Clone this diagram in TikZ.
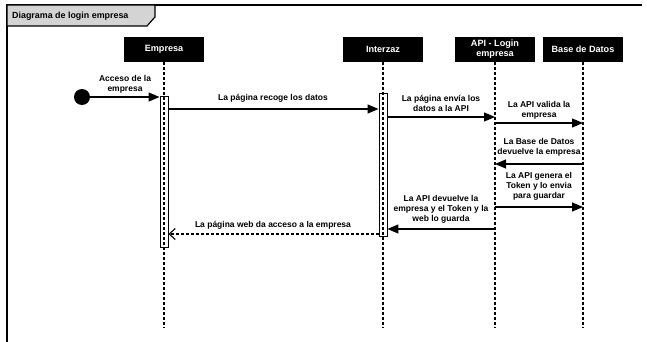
\documentclass[tikz,border=0pt]{standalone}
\usepackage{fontspec}
\setmainfont{Liberation Sans}
\usetikzlibrary{arrows.meta}
\begin{document}
\begin{tikzpicture}[x=1pt,y=-1pt,
  every node/.style={font=\bfseries\fontsize{8.5}{9.8}\selectfont},
  head/.style={fill=black,text=white,minimum width=80pt,minimum height=25pt,inner sep=1pt,align=center,
    font=\bfseries\fontsize{9.1}{10}\selectfont},
  life/.style={dash pattern=on 3pt off 2pt,line width=1.1pt},
  act/.style={draw,fill=white,line width=0.9pt,minimum width=8pt,inner sep=0pt},
  msg/.style={line width=1.2pt,-{Triangle[length=11pt,width=9pt]}},
  reply/.style={line width=1.1pt,dash pattern=on 3pt off 2pt,-{Straight Barb[length=6pt,width=11pt]}},
  lbl/.style={align=center,inner sep=1pt,anchor=south},
]
\useasboundingbox (0,0) rectangle (647,342);

% frame with its title tab
\draw[line width=1.4pt] (642,5) -- (7,5) -- (7,342);
\filldraw[fill=black!17,line width=1.2pt] (7,5) -- (155,5) -- (155,17) -- (147,26) -- (7,26) -- cycle;
\node[anchor=west,inner sep=0pt,font=\bfseries\fontsize{8.9}{10}\selectfont] (title) at (12,16) {Diagrama de login empresa};

% lifeline heads
\node[head] (emp) at (164,49.5) {Empresa};
\node[head] (int) at (383,49.5) {Interzaz};
\node[head] (api) at (495,49.5) {API - Login\\empresa};
\node[head] (bd)  at (583,49.5) {Base de Datos};

% activation bars
\node[act,minimum height=151pt] (eact) at (164,171.5) {};
\node[act,minimum height=143pt] (iact) at (383,164.5) {};

% lifelines
\coordinate (bottom) at (0,328);
\foreach \n in {emp,int,api,bd}
  \draw[life] (\n.south) -- (\n.south |- bottom);

% initial state
\node[circle,fill=black,minimum size=16pt,inner sep=0pt] (start) at (82,97) {};

% message heights
\coordinate (y0) at (0,97);
\coordinate (y1) at (0,109);
\coordinate (y2) at (0,117);
\coordinate (y3) at (0,123);
\coordinate (y4) at (0,164);
\coordinate (y5) at (0,207);
\coordinate (y6) at (0,229);
\coordinate (y7) at (0,234);

% messages
\draw[msg] (start) -- (eact.west |- y0);
\node[lbl] (l0) at (125,94) {Acceso de la\\empresa};

\draw[msg] (eact.east |- y1) -- (iact.west |- y1);
\node[lbl] (l1) at (273,104) {La página recoge los datos};

\draw[msg] (iact.east |- y2) -- (api.south |- y2);
\node[lbl] (l2) at (441,113) {La página envía los\\datos a la API};

\draw[msg] (api.south |- y3) -- (bd.south |- y3);
\node[lbl] (l3) at (539,120) {La API valida la\\empresa};

\draw[msg] (bd.south |- y4) -- (api.south |- y4);
\node[lbl] (l4) at (539,157) {La Base de Datos\\devuelve la empresa};

\draw[msg] (api.south |- y5) -- (bd.south |- y5);
\node[lbl] (l5) at (539,201) {La API genera el\\Token y lo envia\\para guardar};

\draw[msg] (api.south |- y6) -- (iact.east |- y6);
\node[lbl] (l6) at (441,224) {La API devuelve la\\empresa y el Token y la\\web lo guarda};

\draw[reply] (iact.west |- y7) -- (eact.east |- y7);
\node[lbl] (l7) at (273,230) {La página web da acceso a la empresa};
\end{tikzpicture}
\end{document}
